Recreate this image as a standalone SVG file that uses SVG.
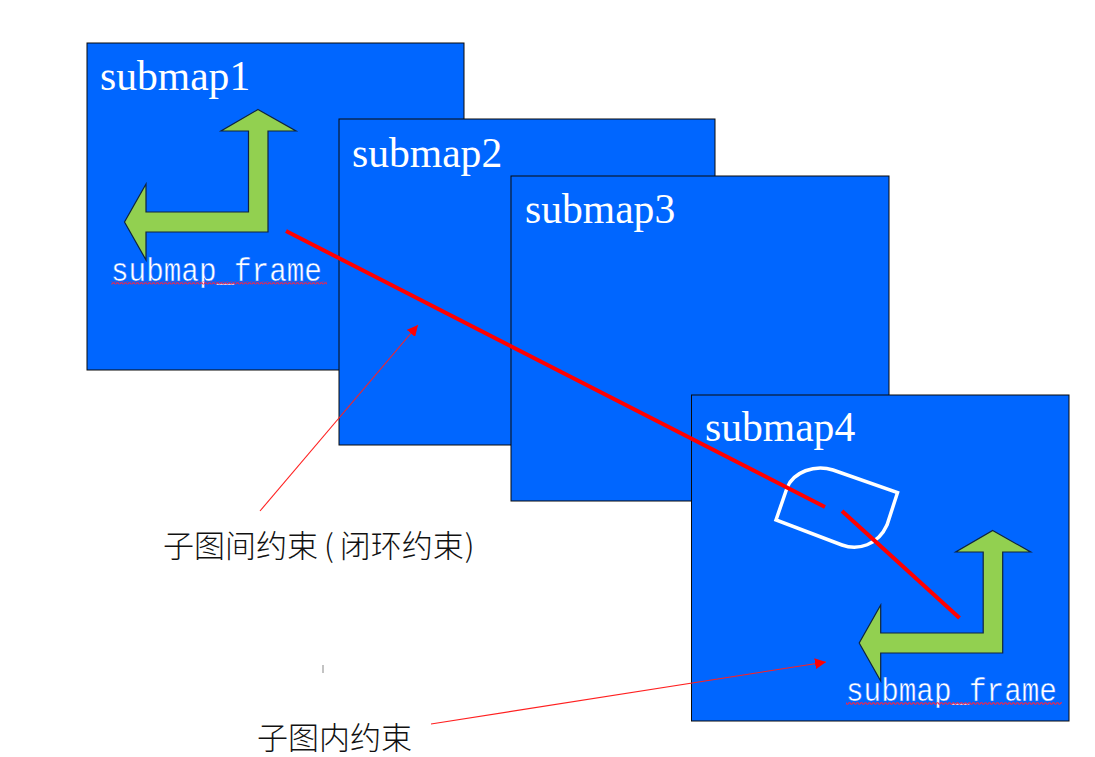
<svg xmlns="http://www.w3.org/2000/svg" width="1095" height="757" viewBox="0 0 1095 757">
<style>
.map{fill:#0066ff;stroke:#0a0a0a;stroke-width:1}
.title{font-family:"Liberation Serif",serif;font-size:41.600px;fill:#fff}
.frame{font-family:"Liberation Mono",monospace;font-size:29.300px;fill:#fff;stroke:#0066ff;stroke-width:.4}
.axis{fill:#92d050;stroke:#10243e;stroke-width:1.2;stroke-linejoin:miter}
.cjk{font-family:"Noto Sans CJK SC","Noto Sans CJK JP",sans-serif;font-size:31px;font-weight:300;fill:#111}
.thick{stroke:#ff0000;stroke-width:4;fill:none}
.thin{stroke:#ff2020;stroke-width:1.1;fill:none;marker-end:url(#tip)}
</style>
<defs>
<marker id="tip" viewBox="0 0 10 10" refX="10" refY="5" markerWidth="11" markerHeight="11" markerUnits="userSpaceOnUse" orient="auto"><path d="M0 0L10 5L0 10Z" fill="#ff0000"/></marker>
<pattern id="wave" width="4" height="3" patternUnits="userSpaceOnUse"><path d="M0 2.200L1 .8L2 .8L3 2.200L4 2.200" fill="none" stroke="#ff2040" stroke-width="1.100"/></pattern>
<path id="axis" d="M258 109.500L296 131H268V232H146V260L124.500 222L146 184V212H248.500V131H221Z"/>
</defs>
<rect width="1095" height="757" fill="#fff"/>
<g id="submap1">
<rect class="map" x="87" y="43" width="377" height="327"/>
<text class="title" x="100" y="90">submap1</text>
<use href="#axis" class="axis"/>
<text class="frame" transform="translate(111 280.500) scale(1 1.150)">submap_frame</text>
<rect x="111" y="281.500" width="216" height="3" fill="url(#wave)"/>
</g>
<g id="submap2">
<rect class="map" x="339" y="119" width="376" height="326"/>
<text class="title" x="352" y="167">submap2</text>
</g>
<g id="submap3">
<rect class="map" x="511" y="176" width="378" height="325"/>
<text class="title" x="525" y="223">submap3</text>
</g>
<g id="submap4">
<rect class="map" x="691.500" y="395" width="377.500" height="326"/>
<text class="title" x="705" y="441">submap4</text>
<path d="M776 520L787 488C793 472 815 464 833 470L897.500 492.700L887 525C878 545 858 551 842 545Z" fill="none" stroke="#fff" stroke-width="3.500"/>
<use href="#axis" class="axis" transform="translate(734.700 421)"/>
<text class="frame" transform="translate(846 701) scale(1 1.150)">submap_frame</text>
<rect x="846" y="702" width="216" height="3" fill="url(#wave)"/>
</g>
<g id="label-inter">
<text class="cjk" x="163" y="557">子图间约束<tspan dx="6">(</tspan><tspan dx="6">闭环约束</tspan><tspan dx="1">)</tspan></text>
</g>
<g id="label-intra">
<text class="cjk" x="257" y="749">子图内约束</text>
</g>
<g id="tick"><rect x="322.500" y="665" width="1" height="8" fill="#888"/></g>
<g id="connectors">
<line class="thick" x1="286" y1="231" x2="825" y2="507"/>
<line class="thick" x1="842" y1="511" x2="959.500" y2="618"/>
<line class="thin" x1="260" y1="511" x2="418" y2="325"/>
<line class="thin" x1="431" y1="724" x2="826" y2="662"/>
</g>
</svg>
